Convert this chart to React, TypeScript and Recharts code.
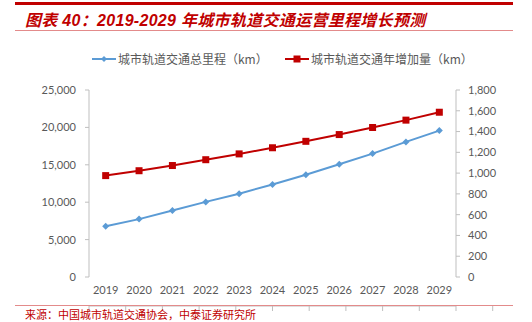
import React from 'react'
import { LineChart, Line, XAxis, YAxis, Legend } from 'recharts'

const years = ['2019', '2020', '2021', '2022', '2023', '2024', '2025', '2026', '2027', '2028', '2029']
const totalKm = [6790, 7740, 8880, 10040, 11140, 12370, 13670, 15070, 16500, 18060, 19570]
const yearlyAddKm = [976, 1023, 1073, 1129, 1185, 1244, 1306, 1371, 1439, 1510, 1586]
const leftTicks = [0, 5000, 10000, 15000, 20000, 25000]
const rightTicks = [0, 200, 400, 600, 800, 1000, 1200, 1400, 1600, 1800]
const boundaryTicks = [0, 1, 2, 3, 4, 5, 6, 7, 8, 9, 10, 11]

const TOTAL_NAME = '城市轨道交通总里程（km）'
const ADD_NAME = '城市轨道交通年增加量（km）'

const data = years.map((y, i) => ({ year: y, total: totalKm[i], add: yearlyAddKm[i] }))

const RED = '#C00000'
const BLUE = '#5B9BD5'
const AXIS = '#BFBFBF'
const TEXT = '#595959'
const tickFont = { fontSize: 11, fill: TEXT, fontFamily: 'Lato, "Open Sans", sans-serif' }

const fmt = (v: number) => v.toLocaleString('en-US')

function Diamond({ cx, cy }: any) {
  if (cx == null || cy == null) return null
  return <path d={`M${cx},${cy - 3.5}L${cx + 3.5},${cy}L${cx},${cy + 3.5}L${cx - 3.5},${cy}Z`} fill={BLUE} />
}

function Square({ cx, cy }: any) {
  if (cx == null || cy == null) return null
  return <rect x={cx - 3.5} y={cy - 3.5} width={7} height={7} fill={RED} />
}

function LegendBox() {
  const item = (color: string, label: string, marker: React.ReactNode, w: number) => (
    <div style={{ display: 'flex', alignItems: 'center', marginRight: 22 }}>
      <svg width={24} height={10}>
        <line x1={0} y1={5} x2={24} y2={5} stroke={color} strokeWidth={2} />
        {marker}
      </svg>
      <span style={{ marginLeft: 2, width: w, whiteSpace: 'nowrap' }}>{label}</span>
    </div>
  )
  return (
    <div style={{ display: 'flex', paddingLeft: 92, fontSize: 12, color: TEXT, fontFamily: '"Noto Sans CJK SC", sans-serif' }}>
      {item(BLUE, TOTAL_NAME, <path d="M12,2L15,5L12,8L9,5Z" fill={BLUE} />, 145)}
      {item(RED, ADD_NAME, <rect x={8.5} y={1.5} width={7} height={7} fill={RED} />, 155)}
    </div>
  )
}

export default function App() {
  return (
    <div style={{ position: 'absolute', left: 0, top: 0, width: 532, height: 322, background: '#fff', overflow: 'hidden' }}>
      <div style={{ position: 'absolute', left: 15, top: 2, width: 498, height: 3, background: RED }} />
      <div
        style={{
          position: 'absolute', left: 25, top: 7, color: RED, fontSize: 16, fontWeight: 'bold', fontStyle: 'italic',
          fontFamily: '"Liberation Sans", "Noto Sans CJK SC", sans-serif', whiteSpace: 'nowrap', letterSpacing: 0.3,
        }}
      >
        图表 40：2019-2029 年城市轨道交通运营里程增长预测
      </div>
      <div style={{ position: 'absolute', left: 15, top: 30, width: 498, height: 1, background: '#E38B8B' }} />

      <div style={{ position: 'absolute', left: 0, top: 0 }}>
        <LineChart width={532} height={322} data={data} margin={{ top: 73, right: 16, bottom: 15, left: 29 }}>
          <Legend verticalAlign="top" content={() => <LegendBox />} wrapperStyle={{ top: 50, left: 0, width: 532 }} />
          <XAxis
            xAxisId="grid"
            type="number"
            domain={[0, 11]}
            ticks={boundaryTicks}
            height={1}
            tickSize={5}
            tick={() => <g />}
            stroke={AXIS}
            axisLine={{ stroke: AXIS }}
            tickLine={{ stroke: AXIS }}
          />
          <XAxis dataKey="year" scale="band" height={29} axisLine={false} tickLine={false} tickSize={0} tickMargin={9} tick={tickFont} interval={0} />
          <YAxis
            yAxisId="left"
            domain={[0, 25000]}
            ticks={leftTicks}
            width={60}
            tickFormatter={fmt}
            tick={tickFont}
            tickSize={4}
            tickMargin={9}
            axisLine={{ stroke: AXIS }}
            tickLine={{ stroke: AXIS }}
          />
          <YAxis
            yAxisId="right"
            orientation="right"
            domain={[0, 1800]}
            ticks={rightTicks}
            width={60}
            tickFormatter={fmt}
            tick={{ ...tickFont, textAnchor: 'start' }}
            tickSize={4}
            tickMargin={8}
            axisLine={{ stroke: AXIS }}
            tickLine={{ stroke: AXIS }}
          />
          <Line yAxisId="left" dataKey="total" name={TOTAL_NAME} stroke={BLUE} strokeWidth={2} dot={<Diamond />} isAnimationActive={false} />
          <Line yAxisId="right" dataKey="add" name={ADD_NAME} stroke={RED} strokeWidth={2} dot={<Square />} isAnimationActive={false} />
        </LineChart>
      </div>

      <div style={{ position: 'absolute', left: 15, top: 305, width: 498, height: 1, background: '#E38B8B' }} />
      <div
        style={{
          position: 'absolute', left: 25, top: 307, color: RED, fontSize: 11, lineHeight: '14px', whiteSpace: 'nowrap',
          fontFamily: '"Noto Sans CJK SC", sans-serif',
        }}
      >
        来源：中国城市轨道交通协会，中泰证券研究所
      </div>
    </div>
  )
}
